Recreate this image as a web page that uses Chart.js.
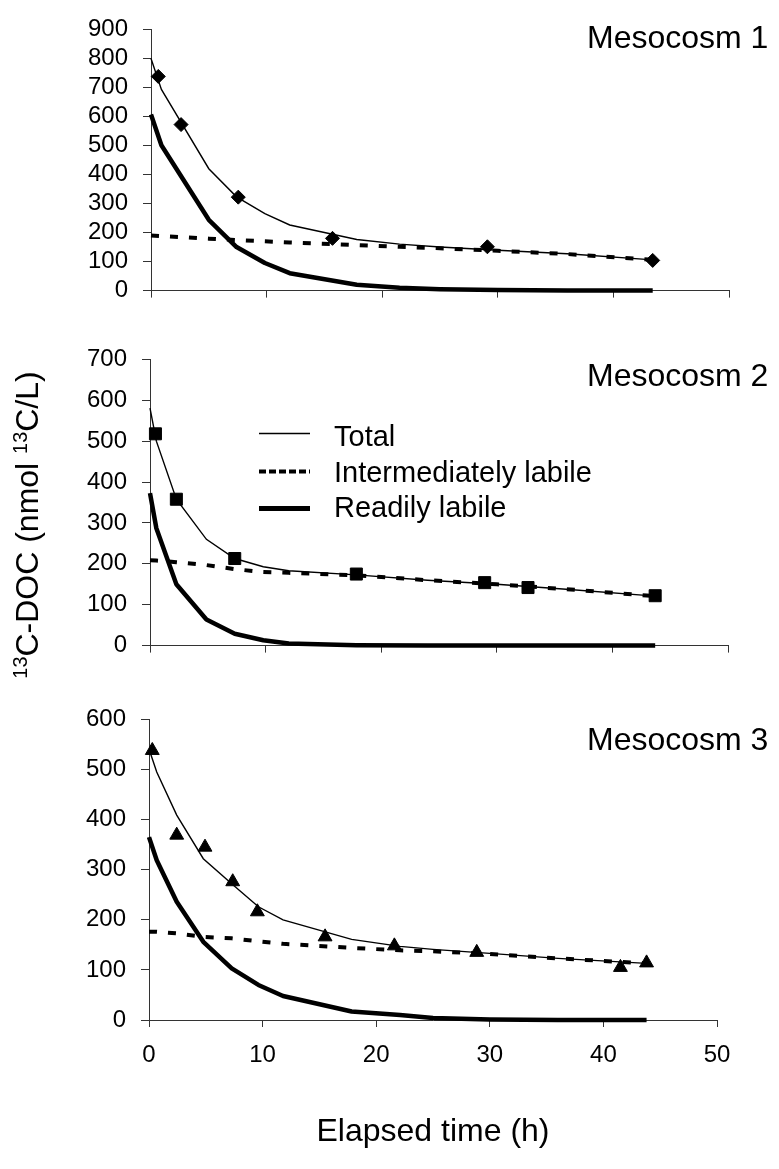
<!DOCTYPE html>
<html>
<head>
<meta charset="utf-8">
<script src="https://cdn.jsdelivr.net/npm/chart.js@4.4.1/dist/chart.umd.min.js"></script>
<style>
html,body{margin:0;padding:0;background:#fff;}
body{width:779px;height:1169px;position:relative;overflow:hidden;font-family:"Liberation Sans",Arial,sans-serif;color:#000;}
canvas{position:absolute;left:0;}
.lbl{position:absolute;font-size:32px;line-height:1;white-space:nowrap;}
.leg{position:absolute;font-size:29px;line-height:1;white-space:nowrap;}
#ytitle{position:absolute;left:27px;top:525px;font-size:32px;line-height:1;white-space:nowrap;transform:translate(-50%,-50%) rotate(-90deg);}
#ytitle sup{font-size:0.62em;vertical-align:0.55em;line-height:0;}
#legsvg{position:absolute;left:0;top:0;}
</style>
</head>
<body>
<canvas id="c1" width="779" height="320" style="top:0px"></canvas>
<canvas id="c2" width="779" height="345" style="top:330px"></canvas>
<canvas id="c3" width="779" height="479" style="top:690px"></canvas>

<div class="lbl" style="left:587px;top:21px">Mesocosm 1</div>
<div class="lbl" style="left:587px;top:359px">Mesocosm 2</div>
<div class="lbl" style="left:587px;top:723px">Mesocosm 3</div>

<svg id="legsvg" width="779" height="1169">
  <line x1="259" y1="433.5" x2="310" y2="433.5" stroke="#000" stroke-width="1.4"/>
  <line x1="259" y1="471.5" x2="310" y2="471.5" stroke="#000" stroke-width="4" stroke-dasharray="7 3"/>
  <line x1="259" y1="508.5" x2="310" y2="508.5" stroke="#000" stroke-width="5"/>
</svg>
<div class="leg" style="left:334px;top:422px">Total</div>
<div class="leg" style="left:334px;top:458px">Intermediately labile</div>
<div class="leg" style="left:334px;top:493px">Readily labile</div>

<div id="ytitle"><sup>13</sup>C-DOC (nmol <sup>13</sup>C/L)</div>

<script>
// ---- Data ----
const xTickValues = [0, 10, 20, 30, 40, 50];

// Mesocosm 1
const m1ModelX       = [0, 0.9, 5, 7.4, 9.85, 12, 17.8, 21.5, 25, 30, 36, 43.4];
const m1Total        = [800, 693, 420, 323, 265, 226, 176, 160, 150, 139, 127, 106];
const m1Intermediate = [190, 188, 179, 174, 170, 166, 157, 151, 146, 137, 126, 106];
const m1Readily      = [607, 501, 244, 150, 95, 60, 20, 10, 5, 2, 0, 0];
const m1ObsX         = [0.63, 2.6, 7.55, 15.7, 29.1, 43.4];
const m1Obs          = [738, 572, 322, 180, 151, 104];

// Mesocosm 2
const m2ModelX       = [0, 0.55, 2.28, 4.88, 7.33, 9.8, 12, 17.85, 24, 30, 36, 43.7];
const m2Total        = [581, 500, 358, 260, 213, 193, 183, 173, 160, 150, 138, 121];
const m2Intermediate = [209, 208, 204, 197, 187, 180, 178, 172, 160, 150, 138, 121];
const m2Readily      = [373, 287, 150, 64, 29, 13, 5, 1, 0, 0, 0, 0];
const m2ObsX         = [0.47, 2.28, 7.33, 17.85, 28.95, 32.7, 43.7];
const m2Obs          = [518, 358, 213, 175, 154, 142, 122];

// Mesocosm 3
const m3ModelX       = [0, 0.68, 2.44, 4.78, 7.28, 9.63, 11.8, 17.84, 22.1, 25, 30, 36, 43.8];
const m3Total        = [541, 495, 409, 322, 272, 226, 200, 161, 147, 141, 133, 123, 113];
const m3Intermediate = [176, 176, 173, 166, 163, 157, 152, 144, 139, 137, 132, 123, 113];
const m3Readily      = [365, 319, 236, 156, 103, 70, 48, 17, 10, 4, 1, 0, 0];
const m3ObsX         = [0.29, 2.44, 4.93, 7.37, 9.54, 15.5, 21.6, 28.85, 41.5, 43.8];
const m3Obs          = [538, 369, 345, 276, 216, 166, 148, 135, 105, 114];

const xTitleText = 'Elapsed time (h)';

// ---- Rendering ----
const FONT = '"Liberation Sans", Arial, sans-serif';
const AXIS = '#333';
function pts(xs, ys) { return xs.map((x, i) => ({x: x, y: ys[i]})); }

function panel(id, o) {
  const datasets = [
    {label: 'Observed', data: pts(o.obsX, o.obs), showLine: false, pointStyle: o.marker,
     pointRadius: o.r, pointHoverRadius: o.r, pointBackgroundColor: '#000', pointBorderColor: '#000',
     pointBorderWidth: 1, borderColor: '#000', clip: false},
    {label: 'Total', data: pts(o.modelX, o.total), borderColor: '#000', borderWidth: 1.4,
     pointRadius: 0, tension: 0, fill: false, clip: false},
    {label: 'Intermediately labile', data: pts(o.modelX, o.inter), borderColor: '#000', borderWidth: 4,
     borderDash: [8, 11], pointRadius: 0, tension: 0, fill: false, clip: false},
    {label: 'Readily labile', data: pts(o.modelX, o.ready), borderColor: '#000', borderWidth: 4.5,
     borderJoinStyle: 'round', pointRadius: 0, tension: 0, fill: false, clip: false}
  ];
  return new Chart(document.getElementById(id), {
    type: 'line',
    data: {datasets: datasets},
    options: {
      responsive: false, animation: false, events: [],
      layout: {padding: {left: 0, right: o.right, top: o.top, bottom: o.bottom}},
      plugins: {legend: {display: false}, tooltip: {enabled: false}, title: {display: false}},
      scales: {
        x: {
          type: 'linear', min: 0, max: 50,
          afterBuildTicks: (a) => { a.ticks = xTickValues.map(v => ({value: v})); },
          ticks: {display: o.showX, font: {family: FONT, size: 24}, color: '#000', padding: 14, maxRotation: 0},
          grid: {drawOnChartArea: false, drawTicks: true, tickLength: 7, color: AXIS, tickColor: AXIS, tickWidth: 1},
          border: {display: true, color: AXIS, width: 1},
          title: {display: !!o.xTitle, text: o.xTitle || '', font: {family: FONT, size: 32}, color: '#000', padding: 0},
          afterFit: (a) => { a.height = o.xh; }
        },
        y: {
          min: 0, max: o.yMax,
          ticks: {stepSize: 100, font: {family: FONT, size: 24}, color: '#000', padding: 15},
          grid: {drawOnChartArea: false, drawTicks: true, tickLength: 8, color: AXIS, tickColor: AXIS, tickWidth: 1},
          border: {display: true, color: AXIS, width: 1},
          afterFit: (a) => { a.width = o.yw; }
        }
      }
    }
  });
}

panel('c1', {modelX: m1ModelX, total: m1Total, inter: m1Intermediate, ready: m1Readily,
  obsX: m1ObsX, obs: m1Obs, marker: 'rectRot', r: 7, yMax: 900,
  top: 17, bottom: 12, right: 50, yw: 151, xh: 10, showX: false});
panel('c2', {modelX: m2ModelX, total: m2Total, inter: m2Intermediate, ready: m2Readily,
  obsX: m2ObsX, obs: m2Obs, marker: 'rect', r: 8.5, yMax: 700,
  top: 24, bottom: 13, right: 51, yw: 150, xh: 10, showX: false});
panel('c3', {modelX: m3ModelX, total: m3Total, inter: m3Intermediate, ready: m3Readily,
  obsX: m3ObsX, obs: m3Obs, marker: 'triangle', r: 8, yMax: 600,
  top: 29, bottom: 18, right: 62, yw: 149, xh: 131, showX: true, xTitle: xTitleText});
</script>
</body>
</html>
